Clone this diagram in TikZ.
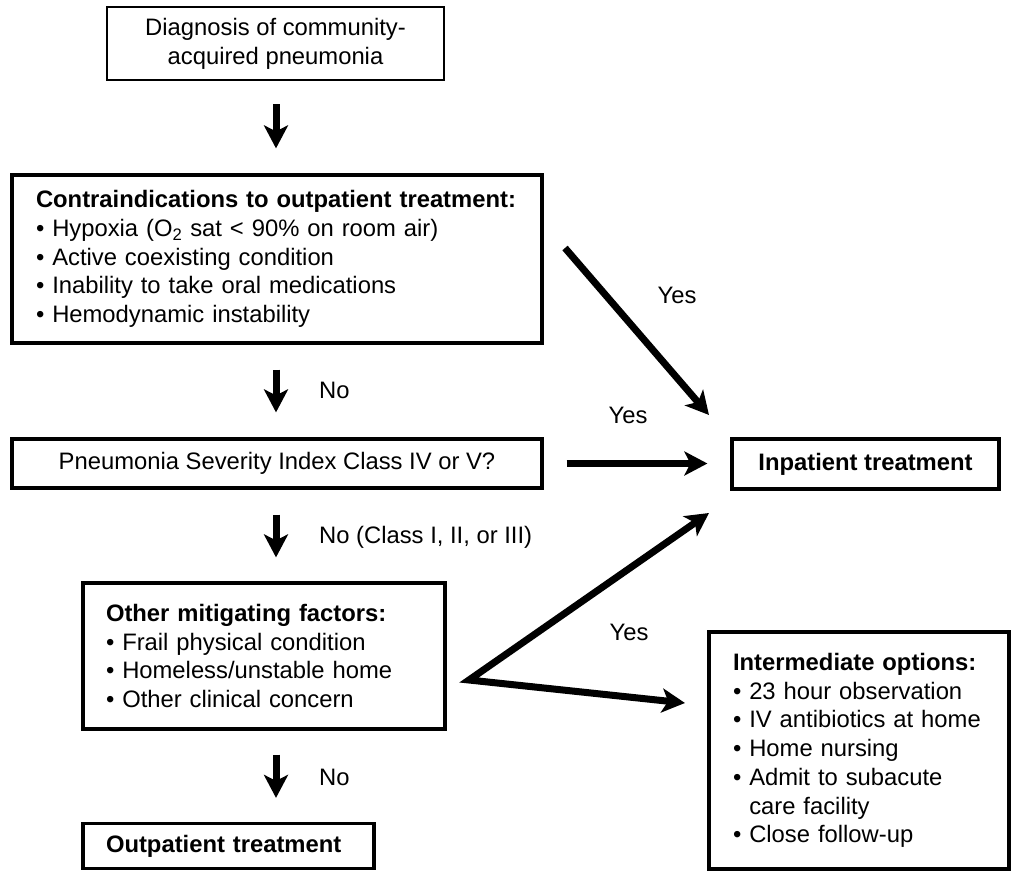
\documentclass[tikz,border=0pt]{standalone}
\usepackage{fontspec}
\setmainfont{Liberation Sans}
\usetikzlibrary{arrows.meta}
\begin{document}
\begin{tikzpicture}[x=1pt,y=-1pt,
  every node/.style={font=\fontsize{23.8}{28.7}\selectfont, inner sep=0pt},
  box/.style={draw, line width=3.2pt, rectangle},
  thinbox/.style={draw, line width=2pt, rectangle},
  tip/.style={},
  arr/.style={line width=7pt, -{Stealth[length=23pt,width=24pt,inset=6pt]}},
  dblarr/.style={line width=7pt, line join=miter, {Stealth[length=23pt,width=24pt,inset=6pt]}-{Stealth[length=23pt,width=24pt,inset=6pt]}},
  lbl/.style={anchor=base west},
  yes/.style={anchor=base}]
\useasboundingbox (0,0) rectangle (1013,873);

\node[thinbox, minimum width=337pt, minimum height=73pt, align=center] (diag) at (275.5,43.5)
  {Diagnosis of community-\\acquired pneumonia};

\node[box, minimum width=530pt, minimum height=168pt, text width=482pt, inner xsep=24pt, align=left] (contra) at (277,259)
  {\textbf{Contraindications to outpatient treatment:}\\
   • Hypoxia (O\textsubscript{2} sat < 90\% on room air)\\
   • Active coexisting condition\\
   • Inability to take oral medications\\
   • Hemodynamic instability};

\node[box, minimum width=530pt, minimum height=49pt] (psi) at (277,463.5)
  {Pneumonia Severity Index Class IV or V?};

\node[box, minimum width=362pt, minimum height=146pt, text width=316pt, inner xsep=23pt, align=left] (other) at (264,656)
  {\textbf{Other mitigating factors:}\\
   • Frail physical condition\\
   • Homeless/unstable home\\
   • Other clinical concern};

\node[box, minimum width=291pt, minimum height=45pt, text width=245pt, inner xsep=23pt, align=left] (outp) at (228.5,846)
  {\textbf{Outpatient treatment}};

\node[box, minimum width=267pt, minimum height=50pt] (inp) at (865.5,464)
  {\textbf{Inpatient treatment}};

\node[box, minimum width=300pt, minimum height=237pt, text width=252pt, inner xsep=24pt, align=left] (inter) at (859,750.5)
  {\textbf{Intermediate options:}\\
   • 23 hour observation\\
   • IV antibiotics at home\\
   • Home nursing\\
   • Admit to subacute\\
   \phantom{• }care facility\\
   • Close follow-up};

\coordinate (axis) at (276,0);
\draw[arr, shorten <=23pt, shorten >=25pt] (axis |- diag.south) -- (axis |- contra.north);
\draw[arr, shorten <=25pt, shorten >=25pt] (axis |- contra.south) -- (axis |- psi.north);
\draw[arr, shorten <=25pt, shorten >=24pt] (axis |- psi.south) -- (axis |- other.north);
\draw[arr, shorten <=24pt, shorten >=24pt] (axis |- other.south) -- (axis |- outp.north);

\node[lbl] (no1) at (319,398.5) {No};
\node[lbl] (no2) at (319,543.5) {No (Class I, II, or III)};
\node[lbl] (no3) at (319,785.5) {No};

\coordinate (c1) at (565,248);
\coordinate (c2) at (709,415);
\draw[arr] (c1) -- (c2);
\draw[arr, shorten <=23pt, shorten >=23pt] (psi.east) -- (psi.east -| inp.west);
\coordinate (vtx) at (469,680);
\coordinate (tA) at (709,513);
\coordinate (tB) at (685,703);
\draw[dblarr] (tA) -- (vtx) -- (tB);

\node[yes] (yes1) at (677,303.5) {Yes};
\node[yes] (yes2) at (628,423.5) {Yes};
\node[yes] (yes3) at (629,640.5) {Yes};
\end{tikzpicture}
\end{document}
